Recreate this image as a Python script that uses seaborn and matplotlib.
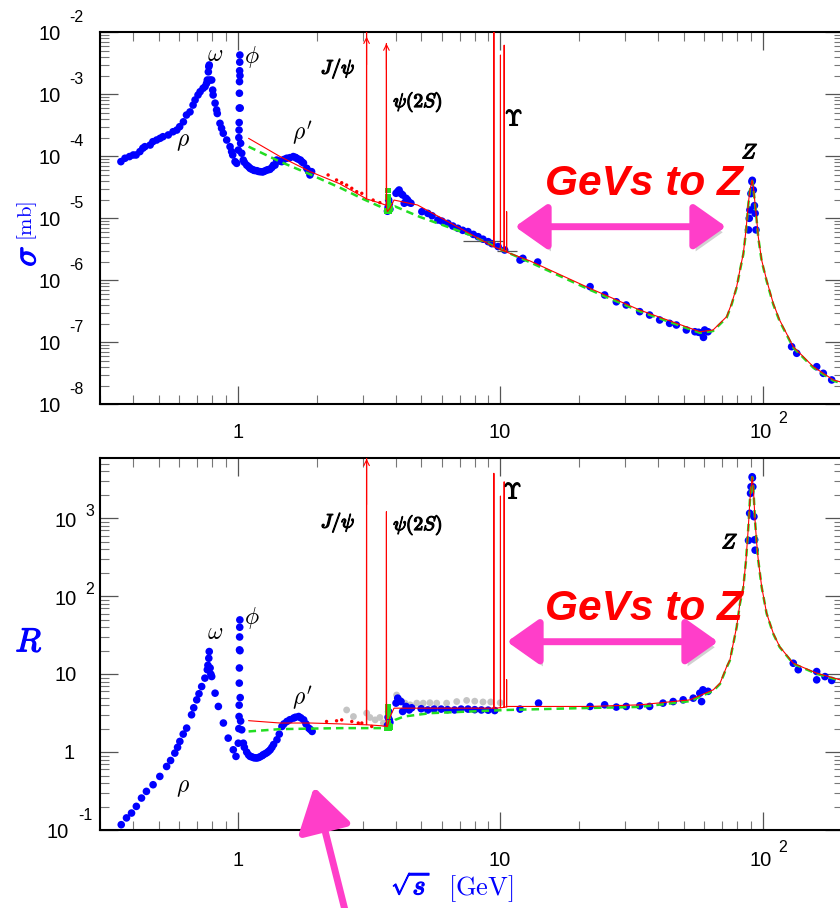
import numpy as np
import matplotlib
matplotlib.use("Agg")
import matplotlib.pyplot as plt
import matplotlib.patheffects as pe
from matplotlib.patches import ArrowStyle
from matplotlib.ticker import LogLocator, NullFormatter
import seaborn as sns

# ------------------------------------------------------------------ data
# top panel: sqrt(s) [GeV] vs sigma [mb]  (blue data)
sig_lowE_x = [0.359, 0.372, 0.387, 0.400, 0.410, 0.424, 0.435, 0.443, 0.464, 0.475, 0.491, 0.506, 0.519, 0.544,
              0.567, 0.586, 0.601, 0.621, 0.638, 0.658, 0.676, 0.688, 0.706, 0.719, 0.738, 0.751, 0.761, 0.766,
              0.773, 0.776, 0.779, 0.783, 0.796, 0.803, 0.806, 0.820, 0.831, 0.836, 0.856, 0.868, 0.881, 0.908,
              0.935, 0.948, 0.957, 0.977, 0.991]
sig_lowE_y = [8.2e-5, 9.3e-5, 9.9e-5, 1.05e-4, 1.05e-4, 1.19e-4, 1.35e-4, 1.43e-4, 1.52e-4, 1.72e-4, 1.83e-4,
              1.95e-4, 2.07e-4, 2.21e-4, 2.49e-4, 2.65e-4, 3.0e-4, 3.6e-4, 4.63e-4, 5.2e-4, 6.7e-4, 8.1e-4,
              9.75e-4, 1.1e-3, 1.25e-3, 1.33e-3, 1.5e-3, 1.7e-3, 2.3e-3, 2.79e-3, 2.97e-3, 1.7e-3, 1.7e-3,
              1.17e-3, 9.75e-4, 7.2e-4, 5.6e-4, 4.9e-4, 3.4e-4, 2.83e-4, 2.35e-4, 1.83e-4, 1.43e-4, 1.19e-4,
              1.05e-4, 8.2e-5, 7.7e-5]
sig_phi_x = [1.005, 1.010, 1.012, 1.013, 1.014, 1.015, 1.016, 1.017, 1.018, 1.019, 1.020, 1.022, 1.026, 1.036,
             1.050, 1.082, 1.114, 1.148, 1.181, 1.217, 1.252, 1.291, 1.327, 1.368, 1.387, 1.408, 1.471, 1.537,
             1.628, 1.677, 1.733, 1.753, 1.832, 1.885, 1.912]
sig_phi_y = [1.26e-4, 2.0e-4, 2.65e-4, 3.5e-4, 6.0e-4, 1.04e-3, 1.6e-3, 2.4e-3, 3.3e-3, 4.3e-3, 2.0e-3, 6.0e-4,
             1.62e-4, 1.12e-4, 8.7e-5, 7.2e-5, 6.4e-5, 6.0e-5, 5.86e-5, 5.65e-5, 5.65e-5, 6.0e-5, 6.16e-5,
             7.2e-5, 7.2e-5, 8.7e-5, 8.2e-5, 9.3e-5, 9.9e-5, 9.3e-5, 8.7e-5, 8.2e-5, 6.4e-5, 5.0e-5, 5.65e-5]
sig_band_x = [1.06, 1.10, 1.13, 1.16, 1.20, 1.24, 1.27, 1.31, 1.35, 1.44, 1.50, 1.58, 1.66, 1.70, 1.78, 1.86]
sig_band_y = [8.0e-5, 6.8e-5, 6.2e-5, 5.9e-5, 5.7e-5, 5.6e-5, 5.8e-5, 6.1e-5, 6.6e-5, 8.4e-5, 8.9e-5, 9.5e-5,
              9.6e-5, 9.0e-5, 7.8e-5, 5.8e-5]
sig_charm_x = [3.72, 3.74, 3.76, 3.78, 3.80, 4.01, 4.07, 4.12, 4.19, 4.25, 4.31, 4.38, 4.44, 4.50, 4.57, 5.03,
               5.30, 5.79, 6.32, 6.90, 7.54, 8.24, 9.00, 9.82, 10.4, 11.9, 12.2, 13.9]
sig_charm_y = [1.3e-5, 1.5e-5, 1.97e-5, 1.7e-5, 1.4e-5, 2.53e-5, 2.7e-5, 2.86e-5, 2.5e-5, 2.38e-5, 1.75e-5,
               2.1e-5, 1.97e-5, 1.8e-5, 1.75e-5, 1.28e-5, 1.2e-5, 9.4e-6, 8.3e-6, 6.9e-6, 6.1e-6, 5.05e-6,
               4.2e-6, 3.5e-6, 3.08e-6, 2.12e-6, 2.26e-6, 1.97e-6]
sig_cont_x = [5.5, 6.0, 6.6, 7.2, 7.9, 8.6, 9.3, 22.0, 25.0, 27.7, 30.2, 34.0, 37.1, 40.5, 44.2, 46.9, 51.2,
              55.2, 57.0, 58.5, 59.5, 60.1, 61.9]
sig_cont_y = [1.1e-5, 9.0e-6, 7.5e-6, 6.4e-6, 5.5e-6, 4.6e-6, 3.9e-6, 7.9e-7, 5.8e-7, 4.5e-7, 4.0e-7, 3.12e-7,
              2.75e-7, 2.29e-7, 2.02e-7, 1.9e-7, 1.58e-7, 1.48e-7, 1.45e-7, 1.40e-7, 1.2e-7, 1.58e-7, 1.48e-7]
sig_z_x = [88.3, 88.9, 89.4, 90.2, 91.0, 91.3, 92.1, 93.0, 93.6, 94.3, 128.9, 134.8, 160.6, 170.2, 183.2]
sig_z_y = [6.5e-6, 1.0e-5, 1.36e-5, 2.5e-5, 3.9e-5, 4.1e-5, 2.86e-5, 1.6e-5, 1.2e-5, 6.5e-6, 8.5e-8, 6.65e-8,
           4.04e-8, 3.16e-8, 2.47e-8]
sig_reddot_x = [2.21, 2.38, 2.49, 2.60, 2.72, 2.84, 2.97, 3.28, 3.48]
sig_reddot_y = [5.0e-5, 4.15e-5, 3.75e-5, 3.44e-5, 3.05e-5, 2.69e-5, 2.53e-5, 1.97e-5, 1.79e-5]
sig_gdat_x = [3.71, 3.73, 3.74, 3.75, 3.76, 3.77, 3.78, 3.80]
sig_gdat_y = [1.3e-5, 2.8e-5, 2.2e-5, 1.5e-5, 1.9e-5, 1.6e-5, 1.3e-5, 1.4e-5]
# red full model curve (with narrow resonance spikes)
sig_red_x = [1.10, 1.45, 1.89, 2.45, 3.07, 3.092, 3.097, 3.102, 3.50, 3.680, 3.686, 3.692, 3.72, 3.80, 3.94,
             4.84, 6.50, 9.40, 9.455, 9.460, 9.465, 10.00, 10.018, 10.023, 10.028, 10.35, 10.352, 10.355,
             10.358, 10.50, 10.575, 10.580, 10.585, 10.70, 13.0, 22.0, 34.1, 57.7, 64.7, 72.9, 76.2, 79.6,
             81.9, 84.4, 86.4, 88.2, 89.4, 91.2, 92.1, 93.5, 94.9, 96.2, 99.1, 103.5, 109.7, 116, 130.8,
             155.9, 185.8, 210]
sig_red_y = [1.95e-4, 9.9e-5, 5.65e-5, 3.6e-5, 2.1e-5, 2.05e-5, 0.1, 2.05e-5, 1.75e-5, 1.62e-5, 6.6e-3,
             1.45e-5, 1.28e-5, 1.45e-5, 1.97e-5, 1.64e-5, 8.3e-6, 3.5e-6, 3.48e-6, 0.1, 3.48e-6, 3.15e-6,
             3.12e-6, 4.3e-3, 3.12e-6, 2.98e-6, 2.97e-6, 6.2e-3, 2.97e-6, 2.9e-6, 2.88e-6, 1.28e-5, 2.88e-6,
             2.8e-6, 2.05e-6, 7.4e-7, 3.3e-7, 1.48e-7, 1.58e-7, 2.59e-7, 4.25e-7, 7.9e-7, 1.47e-6, 2.72e-6,
             6.5e-6, 1.75e-5, 2.86e-5, 4.15e-5, 3.24e-5, 1.75e-5, 9.4e-6, 5.05e-6, 2.12e-6, 1.01e-6, 4.25e-7,
             2.29e-7, 8.5e-8, 4.04e-8, 2.47e-8, 2.15e-8]
# green dashed (naive quark model) curve
sig_green_x = [1.10, 1.45, 1.89, 2.50, 3.00, 3.48, 3.70, 3.75, 3.98, 4.95, 7.68, 10.9, 13.0, 22.0, 34.1, 57.7,
               64.7, 72.9, 76.2, 79.6, 81.9, 84.4, 86.4, 88.2, 89.4, 91.2, 92.1, 93.5, 94.9, 96.2, 99.1, 103.5,
               109.7, 116, 130.8, 155.9, 185.8, 210]
sig_green_y = [1.43e-4, 8.2e-5, 5.1e-5, 3.0e-5, 2.05e-5, 1.55e-5, 1.28e-5, 1.3e-5, 1.55e-5, 1.05e-5, 5.4e-6,
               2.7e-6, 1.95e-6, 7.0e-7, 3.15e-7, 1.42e-7, 1.52e-7, 2.5e-7, 4.1e-7, 7.7e-7, 1.43e-6, 2.65e-6,
               6.3e-6, 1.7e-5, 2.8e-5, 4.0e-5, 3.15e-5, 1.7e-5, 9.1e-6, 4.9e-6, 2.05e-6, 9.8e-7, 4.1e-7,
               2.2e-7, 8.2e-8, 3.9e-8, 2.4e-8, 2.05e-8]
sig_hbar_y = [4.3e-6, 3.0e-6]
sig_hbar_x0 = [7.22, 9.73]
sig_hbar_x1 = [10.25, 11.6]

# bottom panel: sqrt(s) vs R
r_lowE_x = [0.360, 0.377, 0.394, 0.411, 0.430, 0.449, 0.476, 0.505, 0.536, 0.555, 0.576, 0.590, 0.602, 0.620,
            0.639, 0.667, 0.680, 0.698, 0.712, 0.729, 0.750, 0.766, 0.770, 0.776, 0.779, 0.785, 0.790, 0.796,
            0.820, 0.844, 0.882, 0.920, 0.962, 0.985]
r_lowE_y = [0.117, 0.143, 0.165, 0.201, 0.257, 0.313, 0.381, 0.487, 0.653, 0.78, 0.970, 1.15, 1.37, 1.7, 2.03,
            3.01, 3.7, 4.68, 5.6, 6.93, 8.89, 11.4, 13.0, 16.0, 19.5, 12.0, 10.0, 9.32, 5.70, 3.85, 2.36, 1.51,
            1.07, 0.88]
r_phi_x = [1.005, 1.010, 1.012, 1.013, 1.014, 1.015, 1.016, 1.017, 1.018, 1.019, 1.020, 1.022, 1.026, 1.036,
           1.051, 1.082, 1.115, 1.148, 1.180, 1.217, 1.250, 1.291, 1.330, 1.370, 1.411, 1.474, 1.540, 1.633,
           1.707, 1.784, 1.864, 1.921]
r_phi_y = [1.30, 2.0, 2.86, 4.0, 7.67, 12.0, 20.5, 30.0, 40.0, 49.7, 20.0, 5.0, 2.5, 1.93, 1.30, 1.0, 0.88,
           0.85, 0.838, 0.87, 0.923, 0.98, 1.07, 1.25, 1.44, 2.13, 2.47, 2.73, 2.86, 2.59, 2.03, 1.84]
r_band_x = [1.06, 1.10, 1.13, 1.16, 1.20, 1.24, 1.27, 1.31, 1.35, 1.44, 1.50, 1.58, 1.66, 1.74, 1.82, 1.89]
r_band_y = [1.15, 0.92, 0.87, 0.845, 0.85, 0.90, 0.95, 1.02, 1.15, 1.7, 2.3, 2.6, 2.8, 2.75, 2.3, 1.95]
r_cont_x = [3.72, 3.74, 3.76, 3.78, 3.80, 4.01, 4.07, 4.19, 4.25, 4.38, 4.50, 4.60, 5.0, 5.30, 5.6, 5.96, 6.3,
            6.70, 7.1, 7.54, 8.0, 8.48, 9.0, 9.53, 11.9, 14.0, 22.0, 25.0, 27.7, 30.2, 34.0, 37.1, 41.7, 45.6,
            49.8, 54.4, 57.6, 58.5, 59.2, 61.9]
r_cont_y = [2.2, 2.8, 3.3, 2.6, 2.4, 4.25, 4.92, 4.45, 3.32, 3.85, 3.47, 3.7, 3.6, 3.47, 3.56, 3.56, 3.5, 3.47,
            3.56, 3.56, 3.5, 3.47, 3.45, 3.41, 3.56, 4.25, 3.85, 4.04, 3.78, 3.85, 3.93, 3.85, 4.25, 4.45, 4.68,
            4.92, 5.70, 4.45, 6.29, 6.02]
r_z_x = [88.3, 89.2, 89.9, 90.3, 91.2, 91.4, 91.7, 92.6, 93.2, 93.6, 130.8, 136.6, 160.6, 160.6, 172.7, 183.2]
r_z_y = [520, 1160, 2090, 2540, 3410, 3300, 2540, 1050, 530, 390, 13.8, 11.4, 10.8, 8.45, 9.3, 8.3]
r_gray_x = [2.60, 2.76, 3.10, 3.19, 3.34, 3.48, 3.59, 4.03, 4.15, 4.34, 4.54, 4.81, 5.09, 5.40, 5.73, 6.25,
            6.83, 7.45, 8.0, 8.6, 9.2, 10.0]
r_gray_y = [3.47, 2.86, 3.16, 2.78, 2.59, 2.78, 2.36, 5.4, 4.68, 4.25, 4.04, 4.25, 4.25, 4.3, 4.25, 4.25, 4.45,
            4.6, 4.5, 4.4, 4.4, 4.3]
r_reddot_x = [2.18, 2.38, 2.49, 2.72, 2.88, 2.97, 3.24]
r_reddot_y = [2.47, 2.52, 2.59, 2.47, 2.36, 2.36, 2.13]
r_gdat_x = [3.71, 3.73, 3.74, 3.75, 3.76, 3.77, 3.78, 3.80]
r_gdat_y = [2.0, 3.8, 3.2, 2.4, 2.9, 2.2, 2.0, 2.1]
r_red_x = [1.10, 1.45, 1.89, 2.45, 3.07, 3.092, 3.097, 3.102, 3.50, 3.680, 3.686, 3.692, 3.72, 3.80, 3.94,
           4.84, 6.50, 9.40, 9.455, 9.460, 9.465, 10.00, 10.018, 10.023, 10.028, 10.35, 10.352, 10.355,
           10.358, 10.50, 10.575, 10.580, 10.585, 10.70, 14.2, 22.0, 34.1, 52.8, 64.8, 68.8, 72.9, 75.0,
           79.6, 81.9, 84.4, 86.4, 88.2, 89.4, 91.2, 92.1, 93.5, 94.9, 96.2, 99.1, 103.5, 109.7, 116, 130.8,
           160.6, 197, 210]
r_red_y = [2.53, 2.36, 2.36, 2.30, 2.24, 2.24, 1.0e5, 2.24, 2.18, 2.13, 1215, 2.13, 2.13, 2.80, 3.66, 3.66,
           3.66, 3.66, 3.66, 3780, 3.66, 3.70, 3.70, 1930, 3.70, 3.75, 3.75, 2940, 3.75, 3.80, 3.80, 8.5, 3.80,
           3.85, 3.85, 3.85, 4.04, 4.68, 6.29, 7.67, 12.5, 15.2, 40.7, 81, 133, 292, 780, 1720, 3410, 2540,
           950, 478, 292, 133, 60.5, 33.6, 22.6, 13.8, 10.3, 8.45, 8.2]
r_green_x = [1.10, 1.45, 1.89, 2.50, 3.00, 3.70, 3.75, 3.98, 4.30, 5.42, 10.6, 20.1, 34.1, 52.8, 64.8, 68.8,
             72.9, 75.0, 79.6, 81.9, 84.4, 86.4, 88.2, 89.4, 91.2, 92.1, 93.5, 94.9, 96.2, 99.1, 103.5, 109.7,
             116, 130.8, 160.6, 197, 210]
r_green_y = [1.84, 1.97, 2.0, 2.03, 2.03, 2.03, 2.2, 2.59, 2.86, 3.16, 3.47, 3.66, 3.8, 4.5, 6.1, 7.5, 12.2,
             15.0, 40, 80, 130, 288, 770, 1700, 3380, 2500, 940, 470, 288, 131, 60, 33, 22.3, 13.6, 10.1, 8.3,
             8.1]

sigma_decades = [-8, -7, -6, -5, -4, -3, -2]
r_decades = [-1, 0, 1, 2, 3]
x_decades = [0, 1, 2]

# ------------------------------------------------------------------ style
sns.set_style("ticks")
plt.rcParams["font.family"] = ["Liberation Sans", "DejaVu Sans"]
plt.rcParams["mathtext.fontset"] = "cm"

W, H = 840, 908
fig = plt.figure(figsize=(W / 100, H / 100), dpi=100)
XMIN, XMAX = 0.2988, 202.3
ax1 = fig.add_axes([100 / W, (H - 404.3) / H, 743 / W, 372 / H])
ax2 = fig.add_axes([100 / W, (H - 830) / H, 743 / W, 371.7 / H])

BLUE = "#0000ff"
RED = "#ff0000"
GREEN = "#22dd22"
PINK = "#ff3ec9"


def dots(ax, x, y, color, s=30, z=2, marker="o"):
    sns.scatterplot(x=x, y=y, ax=ax, color=color, s=s, marker=marker, edgecolor="none",
                    linewidth=0, zorder=z, legend=False)


def curve(ax, x, y, color, lw, z, ls="-"):
    sns.lineplot(x=x, y=y, ax=ax, color=color, lw=lw, sort=False, estimator=None,
                 legend=False, zorder=z)
    ax.get_lines()[-1].set_linestyle(ls)


# top panel
for xs, ys in [(sig_lowE_x, sig_lowE_y), (sig_phi_x, sig_phi_y), (sig_band_x, sig_band_y),
               (sig_charm_x, sig_charm_y), (sig_cont_x, sig_cont_y), (sig_z_x, sig_z_y)]:
    dots(ax1, xs, ys, BLUE)
dots(ax1, sig_reddot_x, sig_reddot_y, RED, s=6, z=3)
dots(ax1, sig_gdat_x, sig_gdat_y, GREEN, s=16, z=3, marker="s")
ax1.hlines(sig_hbar_y, sig_hbar_x0, sig_hbar_x1, color="#555555", lw=0.9, zorder=3)
curve(ax1, sig_green_x, sig_green_y, GREEN, 1.8, 3, ls=(0, (3, 2)))
curve(ax1, sig_red_x, sig_red_y, RED, 0.8, 4)

# bottom panel
dots(ax2, r_gray_x, r_gray_y, "#c4c4c4", s=24, z=1)
for xs, ys in [(r_lowE_x, r_lowE_y), (r_phi_x, r_phi_y), (r_band_x, r_band_y), (r_cont_x, r_cont_y),
               (r_z_x, r_z_y)]:
    dots(ax2, xs, ys, BLUE)
dots(ax2, r_reddot_x, r_reddot_y, RED, s=6, z=3)
dots(ax2, r_gdat_x, r_gdat_y, GREEN, s=16, z=3, marker="s")
curve(ax2, r_green_x, r_green_y, GREEN, 1.8, 3, ls=(0, (3, 2)))
curve(ax2, r_red_x, r_red_y, RED, 0.8, 4)

# arrow heads on off-scale resonances
ax1.annotate("", xy=(3.097, 8.5e-3), xytext=(3.097, 3e-3),
             arrowprops=dict(arrowstyle="->", color=RED, lw=0.8, shrinkA=0, shrinkB=0))
ax1.annotate("", xy=(3.686, 6.6e-3), xytext=(3.686, 2.5e-3),
             arrowprops=dict(arrowstyle="->", color=RED, lw=0.8, shrinkA=0, shrinkB=0))
ax2.annotate("", xy=(3.097, 5800), xytext=(3.097, 1500),
             arrowprops=dict(arrowstyle="->", color=RED, lw=0.8, shrinkA=0, shrinkB=0))


def style_axis(ax, ylo, yhi):
    ax.set_xscale("log")
    ax.set_yscale("log")
    ax.set_xlim(XMIN, XMAX)
    ax.set_ylim(ylo, yhi)
    for axis in (ax.xaxis, ax.yaxis):
        axis.set_major_locator(LogLocator(base=10, numticks=30))
        axis.set_minor_locator(LogLocator(base=10, subs=np.arange(2, 10), numticks=100))
        axis.set_major_formatter(NullFormatter())
        axis.set_minor_formatter(NullFormatter())
    ax.tick_params(which="major", direction="in", length=13, width=0.9, color="#555555",
                   top=True, right=True, bottom=True, left=True)
    ax.tick_params(which="minor", direction="in", length=6.5, width=0.8, color="#777777",
                   top=True, right=True, bottom=True, left=True)
    for sp in ax.spines.values():
        sp.set_linewidth(1.5)
        sp.set_color("black")
        sp.set_visible(True)
    ax.set_xlabel("")
    ax.set_ylabel("")


style_axis(ax1, 1e-8, 1e-2)
style_axis(ax2, 0.1, 10 ** 3.77)

TICKFONT = dict(family=["Liberation Sans", "DejaVu Sans"], color="black")
MAIN, EXPO = 14.5, 11.5


def lab(ax, trans, xy, s, dx, dy, size, ha):
    ax.annotate(s, xy=xy, xycoords=trans, xytext=(dx, dy), textcoords="offset pixels",
                ha=ha, va="center", fontsize=size, annotation_clip=False, **TICKFONT)


# y tick labels
for e in sigma_decades:
    t = ax1.get_yaxis_transform()
    lab(ax1, t, (0, 10.0 ** e), "10", -39, -2, MAIN, "right")
    lab(ax1, t, (0, 10.0 ** e), str(e), -31, 15, EXPO, "left")
for e in r_decades:
    t = ax2.get_yaxis_transform()
    if e == 0:
        lab(ax2, t, (0, 1.0), "1", -25, -1, MAIN, "right")
    elif e == 1:
        lab(ax2, t, (0, 10.0), "10", -23, -1, MAIN, "right")
    elif e == -1:
        lab(ax2, t, (0, 0.1), "10", -31, -2, MAIN, "right")
        lab(ax2, t, (0, 0.1), "-1", -22, 15, EXPO, "left")
    else:
        lab(ax2, t, (0, 10.0 ** e), "10", -23, -3, MAIN, "right")
        lab(ax2, t, (0, 10.0 ** e), str(e), -15, 7, EXPO, "left")

# x tick labels
for ax, dy_main, dy_exp in [(ax1, -28, -14), (ax2, -30, -17)]:
    t = ax.get_xaxis_transform()
    for e in x_decades:
        if e == 0:
            lab(ax, t, (1.0, 0), "1", 0, dy_main, MAIN, "center")
        elif e == 1:
            lab(ax, t, (10.0, 0), "10", -1, dy_main, MAIN, "center")
        else:
            lab(ax, t, (100.0, 0), "10", -2, dy_main, MAIN, "center")
            lab(ax, t, (100.0, 0), str(e), 16, dy_exp, EXPO, "left")


def ftext(px, py, s, size, color="black", bold=False, **kw):
    effects = [pe.withStroke(linewidth=0.9, foreground=color)] if bold else None
    fig.text(px / W, 1 - py / H, s, ha=kw.pop("ha", "center"), va=kw.pop("va", "center"),
             fontsize=size, color=color, path_effects=effects, **kw)


# resonance labels
for pos in [dict(rho=(183, 141.7), omega=(215, 55), phi=(252, 57), rhop=(302, 133),
                 jpsi=(338, 68), psi2s=(418, 102), ups=(514, 120), z=(750, 153)),
            dict(rho=(183, 788), omega=(215, 633), phi=(252, 618), rhop=(302, 698),
                 jpsi=(338, 522), psi2s=(418, 525), ups=(513, 493), z=(730, 543))]:
    ftext(*pos["rho"], r"$\rho$", 17)
    ftext(*pos["omega"], r"$\omega$", 17)
    ftext(*pos["phi"], r"$\phi$", 17)
    ftext(*pos["rhop"], r"$\rho'$", 17)
    ftext(*pos["jpsi"], r"$J/\psi$", 14, bold=True)
    ftext(*pos["psi2s"], r"$\psi(2S)$", 14, bold=True)
    ftext(*pos["ups"], r"$\Upsilon$", 16, bold=True)
    ftext(*pos["z"], r"$Z$", 15, bold=True)

# axis titles
ftext(27, 256, r"$\sigma$", 24, color=BLUE, bold=True, rotation=90)
ftext(27, 221, r"$[\mathrm{mb}]$", 15, color=BLUE, rotation=90)
ftext(29, 643, r"$R$", 24, color=BLUE, bold=True)
ftext(411, 887, r"$\sqrt{s}$", 20, color=BLUE, bold=True)
ftext(481, 889, r"$[\mathrm{GeV}]$", 19, color=BLUE)

# "GeVs to Z" callouts
for py in (195, 620):
    fig.text(545 / W, 1 - py / H, "GeVs to Z", ha="left", va="baseline", fontsize=30.5,
             color=RED, fontweight="bold", fontstyle="italic",
             family=["Liberation Sans", "DejaVu Sans"])

shadow = [pe.SimplePatchShadow(offset=(2, -4), shadow_rgbFace="black", alpha=0.18), pe.Normal()]
dbl = ArrowStyle("<|-|>", head_length=0.85, head_width=0.6)
for y0, x0, x1 in [(H - 226.7, 515, 726), (H - 641.7, 507, 718)]:
    a = fig.add_artist(matplotlib.patches.FancyArrowPatch(
        (x0, y0), (x1, y0), arrowstyle=dbl, mutation_scale=23,
        color=PINK, lw=5, shrinkA=0, shrinkB=0))
    a.set_transform(matplotlib.transforms.IdentityTransform())
    a.set_path_effects(shadow)

up = ArrowStyle("-|>", head_length=1.2, head_width=0.75)
b = fig.add_artist(matplotlib.patches.FancyArrowPatch(
    (352, -30), (314, H - 787), arrowstyle=up, mutation_scale=22, color=PINK, lw=5,
    shrinkA=0, shrinkB=0))
b.set_transform(matplotlib.transforms.IdentityTransform())

fig.savefig("out.png", dpi=100)
